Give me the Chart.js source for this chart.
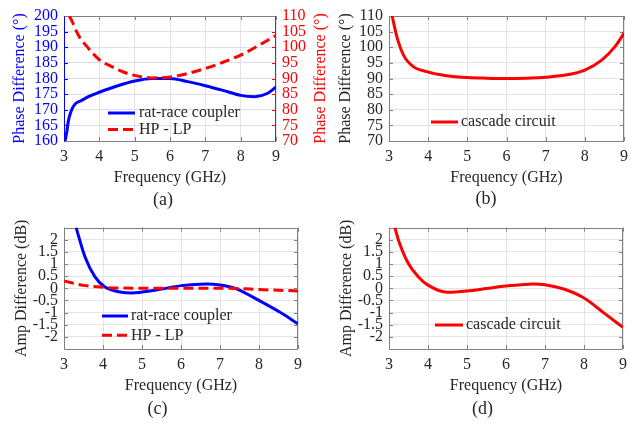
<!DOCTYPE html>
<html>
<head>
<meta charset="utf-8">
<title>Phase and amplitude difference</title>
<script src="https://cdn.jsdelivr.net/npm/chart.js@4/dist/chart.umd.min.js"></script>
<style>
  body { margin: 0; background: #fff; }
  #figure { position: relative; width: 641px; height: 424px; overflow: hidden; background: #fff; }
  #figure canvas { position: absolute; }
</style>
</head>
<body>
<div id="figure">
  <canvas id="chart-a" width="335" height="212" style="left:0;top:0"></canvas>
  <canvas id="chart-b" width="321" height="212" style="left:320px;top:0"></canvas>
  <canvas id="chart-c" width="320" height="212" style="left:0;top:212px"></canvas>
  <canvas id="chart-d" width="321" height="212" style="left:320px;top:212px"></canvas>
</div>
<script>
'use strict';

// ***** DATA *****
const freqTicks = [3, 4, 5, 6, 7, 8, 9];
const phaseTicksRatRace = [160, 165, 170, 175, 180, 185, 190, 195, 200];
const phaseTicksQuad = [70, 75, 80, 85, 90, 95, 100, 105, 110];
const ampTicks = [-2, -1.5, -1, -0.5, 0, 0.5, 1, 1.5, 2];

// (a) phase difference, rat-race coupler (left axis) and HP - LP (right axis)
const freqRatRacePhase = [3.03, 3.08, 3.12, 3.2, 3.31, 3.5, 3.69, 4, 4.5, 5, 5.5, 6, 6.5, 7, 7.5, 8, 8.4, 8.75, 9];
const ratRacePhase = [160, 163, 166.2, 169.5, 171.8, 173, 174.2, 175.6, 177.6, 179.2, 180, 180, 179, 177.7, 176.2, 174.6, 174.2, 175.2, 177.3];
const freqHpLpPhase = [3.15, 3.22, 3.4, 3.69, 4, 4.35, 4.7, 5, 5.5, 6, 6.5, 7, 7.5, 8, 8.5, 9];
const hpLpPhase = [110, 108.5, 104, 99.7, 96, 93.8, 92, 91, 90.2, 90.5, 91.6, 93.2, 95.2, 97.5, 100.5, 103.8];

// (b) phase difference, cascade circuit
const freqCascadePhase = [3.08, 3.2, 3.37, 3.62, 3.96, 4.47, 5, 5.5, 6, 6.5, 7, 7.5, 8, 8.43, 8.77, 9];
const cascadePhase = [110, 103.4, 97.5, 93.8, 92.2, 90.9, 90.3, 90.1, 90, 90.1, 90.4, 91.1, 92.7, 95.9, 100.2, 104.5];

// (c) amplitude difference, rat-race coupler and HP - LP
const freqRatRaceAmp = [3.31, 3.54, 3.79, 4.05, 4.47, 4.73, 5.33, 6.01, 6.65, 7, 7.42, 8.02, 8.54, 9];
const ratRaceAmp = [2.5, 1.29, 0.48, 0.05, -0.16, -0.19, -0.08, 0.11, 0.18, 0.14, -0.02, -0.52, -0.99, -1.46];
const freqHpLpAmp = [3, 3.5, 4, 4.5, 5, 6, 7, 7.5, 8, 8.5, 9];
const hpLpAmp = [0.3, 0.12, 0.04, 0.01, 0, 0, 0, -0.01, -0.05, -0.08, -0.11];

// (d) amplitude difference, cascade circuit
const freqCascadeAmp = [3.15, 3.25, 3.5, 3.75, 4, 4.5, 5, 5.5, 6, 6.7, 7, 7.5, 8, 8.5, 9];
const cascadeAmp = [2.5, 1.95, 1.01, 0.48, 0.13, -0.16, -0.11, -0.01, 0.09, 0.18, 0.15, -0.04, -0.4, -1.0, -1.61];

// ***** STYLE *****
const TEXT = '#262626';
const FRAME = '#808080';
const GRID = '#e4e4e4';
const BLUE = '#0000ff';
const RED = '#ff0000';
const FONT = '"Liberation Serif", "Times New Roman", serif';

Chart.defaults.font.family = FONT;
Chart.defaults.font.size = 16;
Chart.defaults.color = TEXT;

// ***** HELPERS *****
function buildTicks(values) {
  return function (scale) {
    scale.ticks = values.map(v => ({ value: v }));
  };
}

function toPoints(xs, ys) {
  return xs.map((x, i) => ({ x: x, y: ys[i] }));
}

function strokeLine(ctx, x1, y1, x2, y2) {
  ctx.beginPath();
  ctx.moveTo(x1, y1);
  ctx.lineTo(x2, y2);
  ctx.stroke();
}

function crisp(v) {
  return Math.round(v) + 0.5;
}

function lineSet(label, xs, ys, color, dashed, axis) {
  return {
    label: label,
    data: toPoints(xs, ys),
    borderColor: color,
    borderWidth: 3,
    borderDash: dashed ? [10, 5] : [],
    pointRadius: 0,
    cubicInterpolationMode: 'monotone',
    fill: false,
    clip: 0,
    yAxisID: axis || 'y',
    order: dashed ? 0 : 1
  };
}

function freqAxis(height, titlePadBottom) {
  return {
    type: 'linear',
    position: 'bottom',
    min: 3,
    max: 9,
    afterBuildTicks: buildTicks(freqTicks),
    afterFit: s => { s.height = height; },
    grid: { color: GRID, drawTicks: false },
    border: { display: false },
    ticks: { color: TEXT, padding: 6, autoSkip: false, maxRotation: 0, callback: v => String(v) },
    title: { display: true, text: 'Frequency (GHz)', color: TEXT, padding: { top: 0, bottom: titlePadBottom } }
  };
}

function valueAxis(opts) {
  return {
    type: 'linear',
    position: opts.position || 'left',
    min: opts.min,
    max: opts.max,
    afterBuildTicks: buildTicks(opts.ticks),
    afterFit: s => { s.width = opts.width; },
    grid: { display: opts.grid !== false, color: opts.gridColor || GRID, drawTicks: false },
    border: { display: false },
    ticks: { color: opts.color || TEXT, padding: 6, autoSkip: false, callback: v => String(v) },
    title: {
      display: !!opts.title,
      text: opts.title,
      color: opts.color || TEXT,
      padding: { top: opts.titlePad || 0, bottom: 0 }
    }
  };
}

// frame, inward ticks, legend, panel label and right axis title
const panelDecor = {
  id: 'panelDecor',
  beforeDatasetsDraw(chart, args, opts) {
    const { ctx, chartArea: area, scales } = chart;
    const f = opts.frame;
    ctx.save();
    ctx.lineWidth = 1;
    ctx.strokeStyle = f.bottom;
    scales.x.ticks.forEach(t => {
      const px = crisp(scales.x.getPixelForValue(t.value));
      strokeLine(ctx, px, area.bottom, px, area.bottom - 4);
      strokeLine(ctx, px, area.top, px, area.top + 4);
    });
    ctx.strokeStyle = f.left;
    scales.y.ticks.forEach(t => {
      const py = crisp(scales.y.getPixelForValue(t.value));
      strokeLine(ctx, area.left, py, area.left + 4, py);
    });
    const rightScale = scales.y1 || scales.y;
    ctx.strokeStyle = f.right;
    rightScale.ticks.forEach(t => {
      const py = crisp(rightScale.getPixelForValue(t.value));
      strokeLine(ctx, area.right, py, area.right - 4, py);
    });
    const l = crisp(area.left), r = crisp(area.right) - 1, t = crisp(area.top), b = crisp(area.bottom);
    ctx.strokeStyle = f.top;
    strokeLine(ctx, l, t, r, t);
    ctx.strokeStyle = f.bottom;
    strokeLine(ctx, l, b, r, b);
    ctx.strokeStyle = f.left;
    strokeLine(ctx, l, t, l, b);
    ctx.strokeStyle = f.right;
    strokeLine(ctx, r, t, r, b);
    ctx.restore();
  },
  afterDraw(chart, args, opts) {
    const { ctx, chartArea: area } = chart;
    const lg = opts.legend;
    ctx.save();
    ctx.textBaseline = 'middle';
    ctx.textAlign = 'left';
    ctx.font = '16px ' + FONT;
    chart.data.datasets.forEach((ds, i) => {
      const y = lg.y + i * lg.rowGap;
      ctx.strokeStyle = ds.borderColor;
      ctx.lineWidth = ds.borderWidth;
      ctx.setLineDash(ds.borderDash);
      strokeLine(ctx, lg.x1, y, lg.x2, y);
      ctx.setLineDash([]);
      ctx.fillStyle = TEXT;
      ctx.fillText(ds.label, lg.textX, y);
    });

    ctx.textAlign = 'center';
    ctx.font = '18px ' + FONT;
    ctx.fillStyle = TEXT;
    ctx.fillText(opts.label.text, opts.label.x, opts.label.y);

    if (opts.rightTitle) {
      ctx.translate(opts.rightTitle.x, (area.top + area.bottom) / 2);
      ctx.rotate(-Math.PI / 2);
      ctx.font = '16px ' + FONT;
      ctx.fillStyle = opts.rightTitle.color;
      ctx.fillText(opts.rightTitle.text, 0, 0);
    }
    ctx.restore();
  }
};

function makePanel(canvasId, datasets, scales, padding, decor) {
  const ctx = document.getElementById(canvasId).getContext('2d');
  return new Chart(ctx, { //eslint-disable-line
    type: 'line',
    data: { datasets: datasets },
    options: {
      responsive: false,
      animation: false,
      devicePixelRatio: 1,
      layout: { padding: padding },
      scales: scales,
      plugins: {
        legend: { display: false },
        tooltip: { enabled: false },
        panelDecor: decor
      }
    },
    plugins: [panelDecor]
  });
}

// ***** PANELS *****
// (a)
makePanel('chart-a',
  [
    lineSet('rat-race coupler', freqRatRacePhase, ratRacePhase, BLUE, false, 'y'),
    lineSet('HP - LP', freqHpLpPhase, hpLpPhase, RED, true, 'y1')
  ],
  {
    x: freqAxis(71, 24.4),
    y: valueAxis({ min: 160, max: 200, ticks: phaseTicksRatRace, width: 64, color: BLUE,
      gridColor: '#dedef2', title: 'Phase Difference (°)', titlePad: 10.4 }),
    y1: valueAxis({ position: 'right', min: 70, max: 110, ticks: phaseTicksQuad, width: 59,
      color: RED, grid: false })
  },
  { top: 16, right: 0, left: 0, bottom: 0 },
  {
    frame: { top: FRAME, bottom: FRAME, left: BLUE, right: RED },
    legend: { x1: 108, x2: 135, textX: 139, y: 113, rowGap: 16.5 },
    label: { text: '(a)', x: 163, y: 200 },
    rightTitle: { text: 'Phase Difference (°)', x: 321, color: RED }
  });

// (b)
makePanel('chart-b',
  [lineSet('cascade circuit', freqCascadePhase, cascadePhase, RED, false, 'y')],
  {
    x: freqAxis(71, 24.4),
    y: valueAxis({ min: 70, max: 110, ticks: phaseTicksQuad, width: 69,
      title: 'Phase Difference (°)', titlePad: 16.4 })
  },
  { top: 16, right: 17, left: 0, bottom: 0 },
  {
    frame: { top: FRAME, bottom: FRAME, left: FRAME, right: FRAME },
    legend: { x1: 111, x2: 138, textX: 141, y: 122, rowGap: 0 },
    label: { text: '(b)', x: 166, y: 199 }
  });

// (c)
makePanel('chart-c',
  [
    lineSet('rat-race coupler', freqRatRaceAmp, ratRaceAmp, BLUE, false, 'y'),
    lineSet('HP - LP', freqHpLpAmp, hpLpAmp, RED, true, 'y')
  ],
  {
    x: freqAxis(75, 28.4),
    y: valueAxis({ min: -2.5, max: 2.5, ticks: ampTicks, width: 64,
      title: 'Amp Difference (dB)', titlePad: 11.9 })
  },
  { top: 13, right: 22, left: 0, bottom: 0 },
  {
    frame: { top: FRAME, bottom: FRAME, left: FRAME, right: FRAME },
    legend: { x1: 102, x2: 128, textX: 131, y: 104, rowGap: 19.3 },
    label: { text: '(c)', x: 157.5, y: 197 }
  });

// (d)
makePanel('chart-d',
  [lineSet('cascade circuit', freqCascadeAmp, cascadeAmp, RED, false, 'y')],
  {
    x: freqAxis(75, 28.4),
    y: valueAxis({ min: -2.5, max: 2.5, ticks: ampTicks, width: 69,
      title: 'Amp Difference (dB)', titlePad: 17.4 })
  },
  { top: 13, right: 18, left: 0, bottom: 0 },
  {
    frame: { top: FRAME, bottom: FRAME, left: FRAME, right: FRAME },
    legend: { x1: 115, x2: 143, textX: 146, y: 113, rowGap: 0 },
    label: { text: '(d)', x: 162.5, y: 197 }
  });
</script>
</body>
</html>
